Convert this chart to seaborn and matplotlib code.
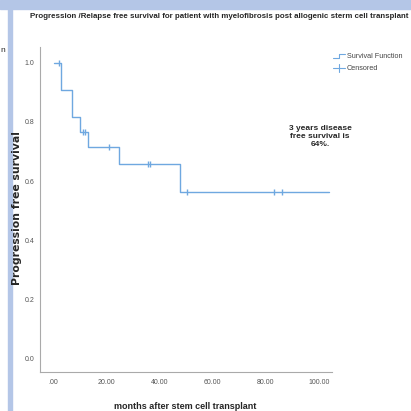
import matplotlib
matplotlib.use("Agg")
import matplotlib.pyplot as plt
import seaborn as sns
import pandas as pd
from matplotlib.patches import Rectangle
from matplotlib.lines import Line2D

# Data
step_times = [0, 3, 7, 10, 13, 24.5, 47.5, 104]
step_surv = [1.0, 0.909, 0.818, 0.767, 0.716, 0.657, 0.564, 0.564]
cens_times = [2, 11, 11.7, 21, 35.5, 36.5, 50.5, 83, 86]
cens_surv = [1.0, 0.767, 0.767, 0.716, 0.657, 0.657, 0.564, 0.564, 0.564]
x_ticks = [0, 20, 40, 60, 80, 100]
x_labels = [".00", "20.00", "40.00", "60.00", "80.00", "100.00"]
y_ticks = [0.0, 0.2, 0.4, 0.6, 0.8, 1.0]
y_labels = ["0.0", "0.2", "0.4", "0.6", "0.8", "1.0"]

sns.set_theme(style="white")
narrow = ["Liberation Sans Narrow", "Liberation Sans", "DejaVu Sans"]
plt.rcParams["font.family"] = narrow

fig = plt.figure(figsize=(4.11, 4.11), dpi=100)
W = H = 411.0
ax = fig.add_axes([40 / W, 1 - 372 / H, (332 - 40) / W, (372 - 47) / H])

col = "#6fa8e0"
df = pd.DataFrame({"t": step_times, "s": step_surv})
sns.lineplot(data=df, x="t", y="s", drawstyle="steps-post", color=col, lw=1.0, ax=ax)
dc = pd.DataFrame({"t": cens_times, "s": cens_surv})
sns.scatterplot(data=dc, x="t", y="s", marker="|", s=25, color=col, linewidth=1.0, ax=ax)

ax.set_xlim(-5.1, 105)
ax.set_ylim(-0.047, 1.054)
ax.set_xticks(x_ticks)
ax.set_xticklabels(x_labels)
ax.set_yticks(y_ticks)
ax.set_yticklabels(y_labels)
ax.tick_params(axis="both", labelsize=5, colors="#555555", length=0)
ax.tick_params(axis="x", pad=5)
ax.tick_params(axis="y", pad=4)
for s in ["top", "right"]:
    ax.spines[s].set_visible(False)
for s in ["left", "bottom"]:
    ax.spines[s].set_color("#aaaaaa")
    ax.spines[s].set_linewidth(0.8)
ax.set_xlabel("")
ax.set_ylabel("")

fig.text(185 / W, 1 - 406 / H, "months after stem cell transplant", ha="center", va="center",
         fontsize=6.5, fontweight="bold", family=["Liberation Sans", "DejaVu Sans"])
fig.text(17 / W, 1 - 208 / H, "Progression free survival", ha="center", va="center",
         rotation=90, fontsize=7.8, fontweight="bold", family=["DejaVu Sans"])
fig.text(30 / W, 1 - 16 / H,
         "Progression /Relapse free survival for patient with myelofibrosis post allogenic sterm cell transplant",
         ha="left", va="center", fontsize=5.7, fontweight="bold", family=narrow)
fig.text(320 / W, 1 - 137 / H, "3 years disease\nfree survival is\n64%.", ha="center", va="center",
         fontsize=6, fontweight="bold", linespacing=1.2, family=narrow)
fig.text(0 / W, 1 - 50 / H, "n", ha="left", va="center", fontsize=6, family=narrow)

# legend
fig.lines.append(Line2D([333 / W, 339 / W, 339 / W, 345 / W], [1 - 58 / H, 1 - 58 / H, 1 - 54 / H, 1 - 54 / H],
                        color=col, lw=0.8, transform=fig.transFigure))
fig.lines.append(Line2D([333 / W, 345 / W], [1 - 68 / H, 1 - 68 / H], color=col, lw=0.8, transform=fig.transFigure))
fig.lines.append(Line2D([339 / W, 339 / W], [1 - 72 / H, 1 - 64 / H], color=col, lw=0.8, transform=fig.transFigure))
fig.text(347 / W, 1 - 56 / H, "Survival Function", ha="left", va="center", fontsize=5.2, color="#444444", family=narrow)
fig.text(347 / W, 1 - 68 / H, "Censored", ha="left", va="center", fontsize=5.2, color="#444444", family=narrow)

# blue frame pieces from the screenshot
band = "#b4c6e7"
fig.patches.append(Rectangle((0, 1 - 9 / H), 1, 9 / H, color=band, transform=fig.transFigure, zorder=-1))
fig.patches.append(Rectangle((8 / W, 0), 3.5 / W, 1, color=band, transform=fig.transFigure, zorder=-1))

fig.savefig("out.png", dpi=100)
